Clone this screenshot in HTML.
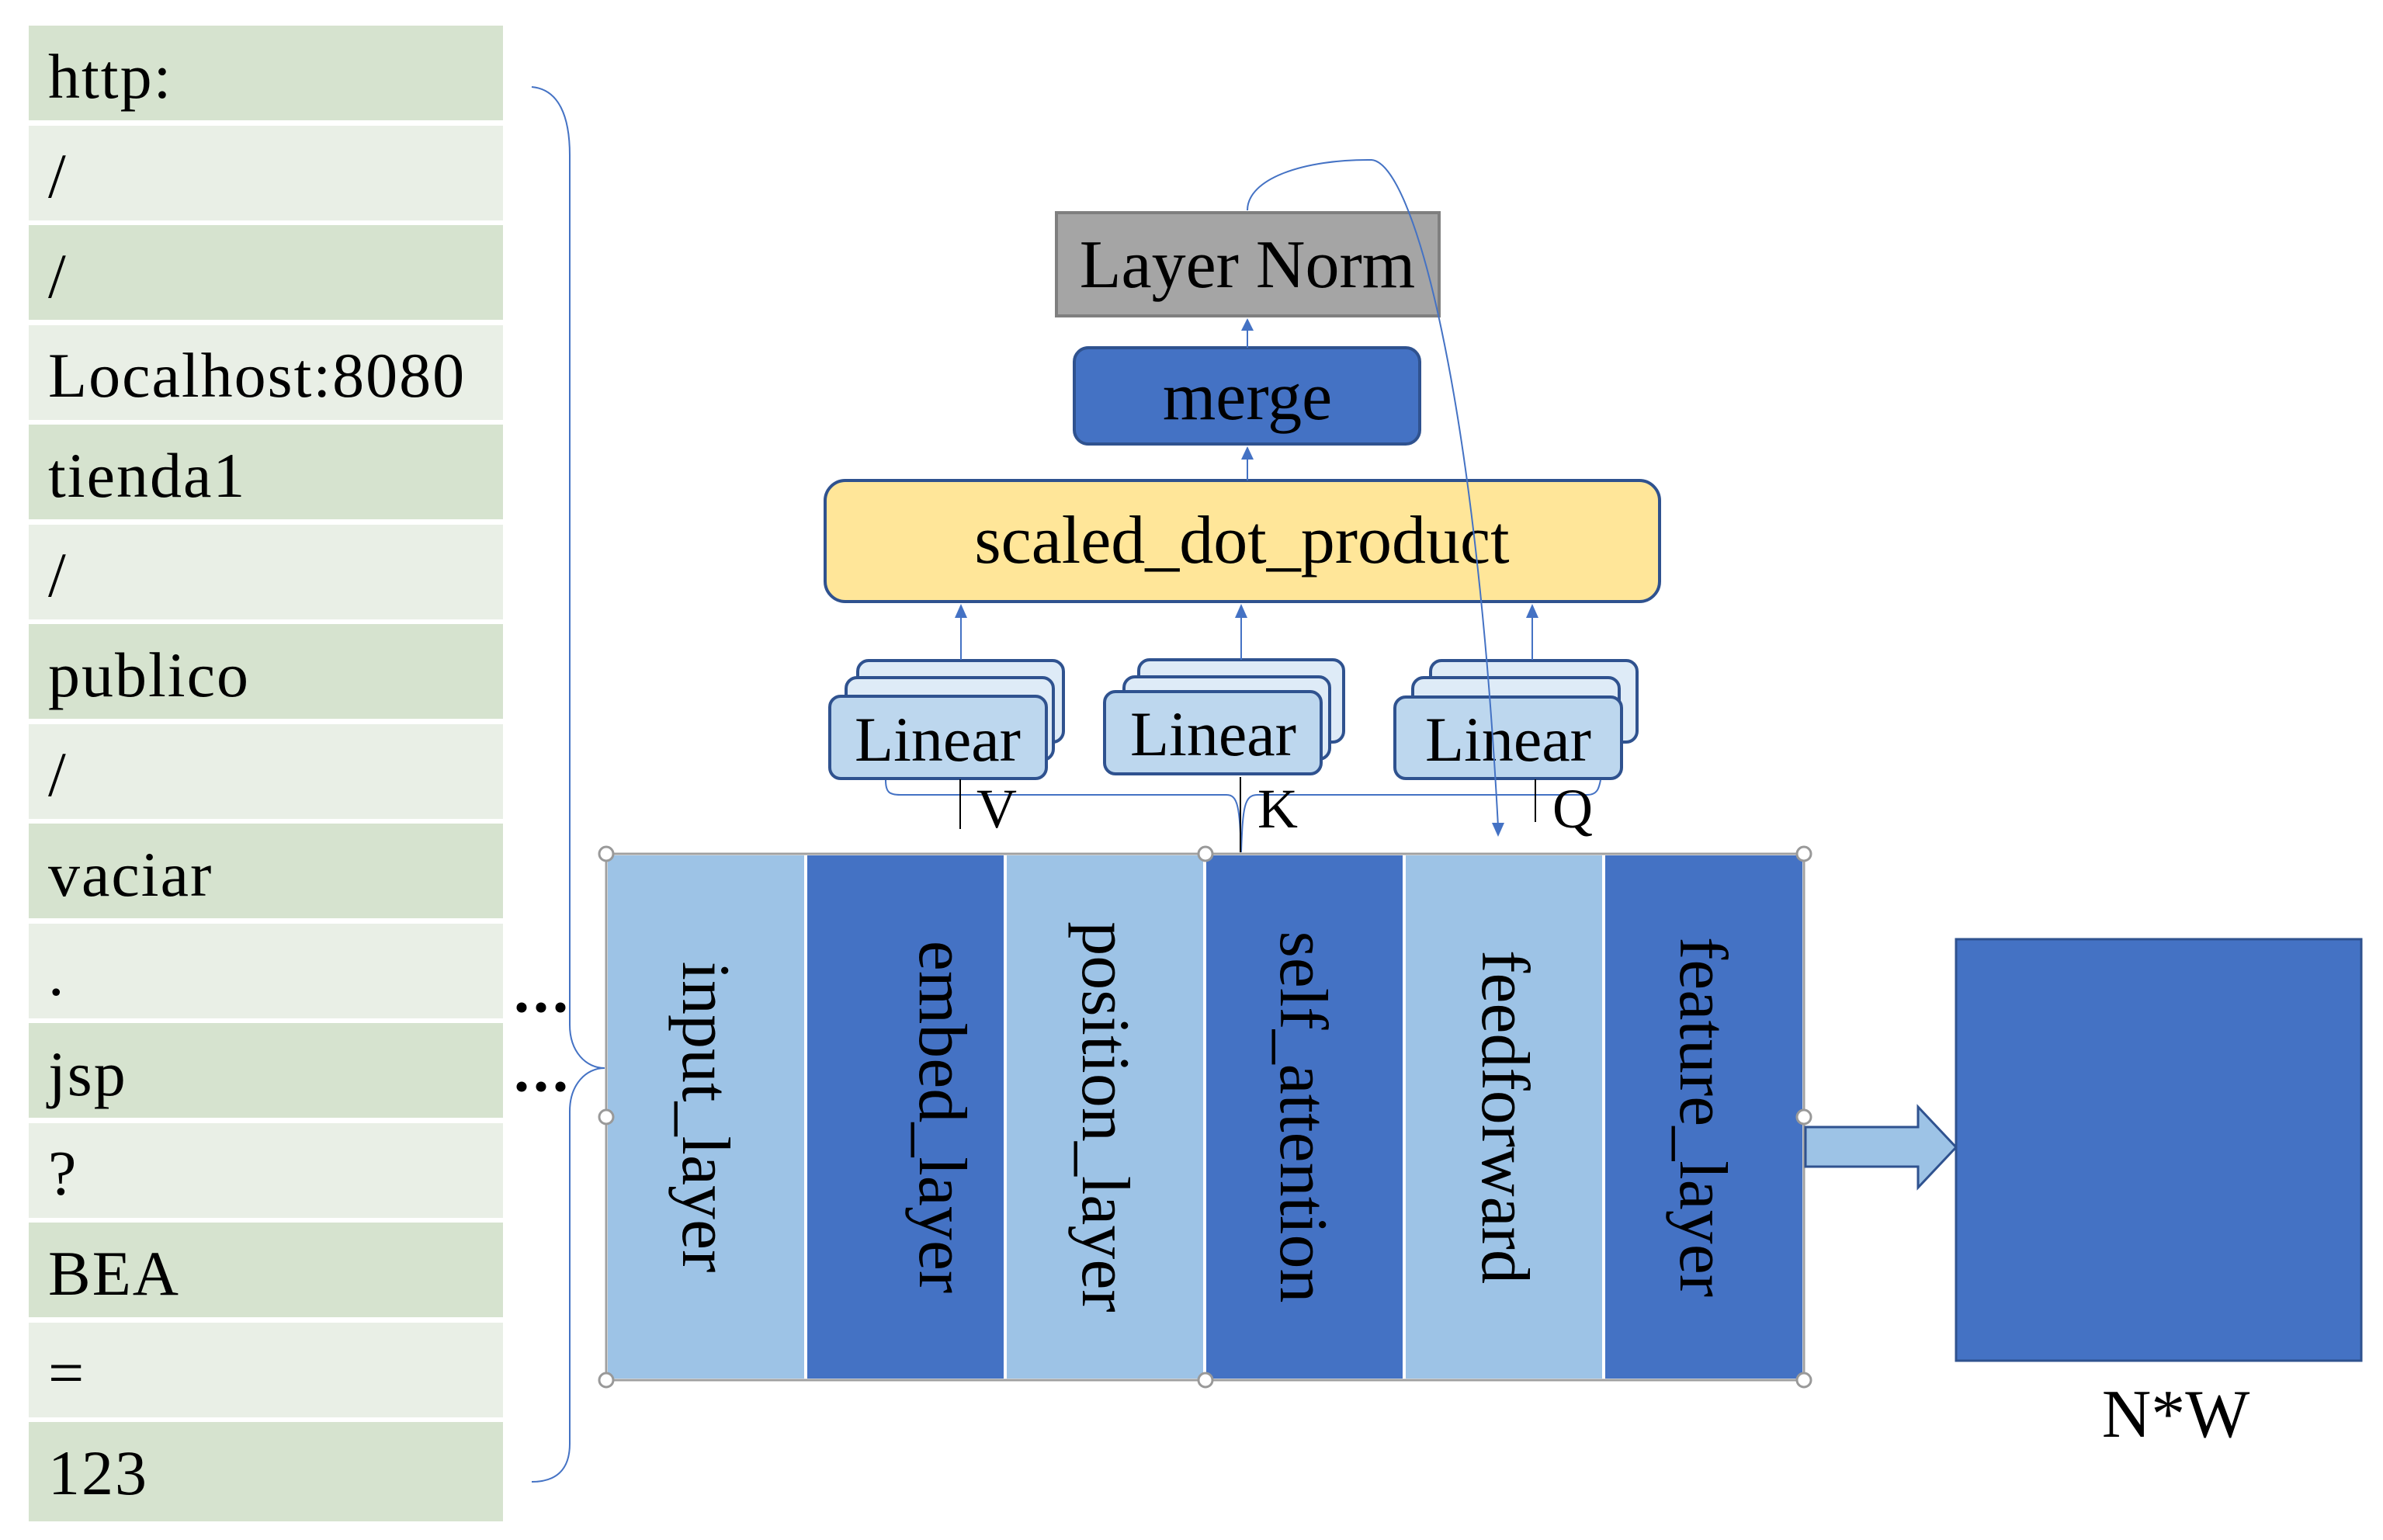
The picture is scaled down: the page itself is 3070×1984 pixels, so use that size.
<!DOCTYPE html>
<html><head><meta charset="utf-8"><style>html,body{margin:0;padding:0;background:#fff}svg{display:block}</style></head>
<body>
<svg width="3070" height="1984" viewBox="0 0 3070 1984" xmlns="http://www.w3.org/2000/svg" font-family="'Liberation Serif', serif">
<!-- left cells -->
<g font-size="82" fill="#000" letter-spacing="2">
<rect x="37" y="33" width="611" height="122" fill="#d6e3cf"/><text x="62" y="126">http:</text>
<rect x="37" y="162" width="611" height="122" fill="#e9efe6"/><text x="62" y="254">/</text>
<rect x="37" y="290" width="611" height="122" fill="#d6e3cf"/><text x="62" y="383">/</text>
<rect x="37" y="419" width="611" height="122" fill="#e9efe6"/><text x="62" y="511">Localhost:8080</text>
<rect x="37" y="547" width="611" height="122" fill="#d6e3cf"/><text x="62" y="640">tienda1</text>
<rect x="37" y="676" width="611" height="122" fill="#e9efe6"/><text x="62" y="768">/</text>
<rect x="37" y="804" width="611" height="122" fill="#d6e3cf"/><text x="62" y="897">publico</text>
<rect x="37" y="933" width="611" height="122" fill="#e9efe6"/><text x="62" y="1025">/</text>
<rect x="37" y="1061" width="611" height="122" fill="#d6e3cf"/><text x="62" y="1154">vaciar</text>
<rect x="37" y="1190" width="611" height="122" fill="#e9efe6"/><text x="62" y="1282">.</text>
<rect x="37" y="1318" width="611" height="122" fill="#d6e3cf"/><text x="62" y="1411">jsp</text>
<rect x="37" y="1447" width="611" height="122" fill="#e9efe6"/><text x="62" y="1539">?</text>
<rect x="37" y="1575" width="611" height="122" fill="#d6e3cf"/><text x="62" y="1668">BEA</text>
<rect x="37" y="1704" width="611" height="122" fill="#e9efe6"/><text x="62" y="1796">=</text>
<rect x="37" y="1832" width="611" height="128" fill="#d6e3cf"/><text x="62" y="1925">123</text>
</g>
<!-- brace -->
<path d="M685 112 C720 115 734 150 734 200 L734 1320 C734 1355 755 1376 779 1376 C755 1376 734 1397 734 1432 L734 1860 C734 1895 715 1909 685 1909" fill="none" stroke="#4472c4" stroke-width="2"/>
<g fill="#000"><circle cx="672" cy="1298" r="6.5"/><circle cx="697" cy="1298" r="6.5"/><circle cx="722" cy="1298" r="6.5"/>
<circle cx="672" cy="1400" r="6.5"/><circle cx="697" cy="1400" r="6.5"/><circle cx="722" cy="1400" r="6.5"/></g>
<!-- main columns -->
<rect x="781" y="1100" width="1543" height="678" fill="#fff" stroke="#a0a0a0" stroke-width="3"/>
<rect x="783" y="1102" width="253" height="674" fill="#9dc3e6"/>
<rect x="1040" y="1102" width="253" height="674" fill="#4472c4"/>
<rect x="1297" y="1102" width="253" height="674" fill="#9dc3e6"/>
<rect x="1554" y="1102" width="253" height="674" fill="#4472c4"/>
<rect x="1811" y="1102" width="253" height="674" fill="#9dc3e6"/>
<rect x="2068" y="1102" width="254" height="674" fill="#4472c4"/>
<g font-size="88" fill="#000" text-anchor="middle">
<text transform="translate(880,1439) rotate(90)">input_layer</text>
<text transform="translate(1185,1439) rotate(90)">embed_layer</text>
<text transform="translate(1395,1439) rotate(90)">position_layer</text>
<text transform="translate(1650,1439) rotate(90)">self_attention</text>
<text transform="translate(1910,1439) rotate(90)">feedforward</text>
<text transform="translate(2165,1439) rotate(90)">feature_layer</text>
</g>
<g fill="#fff" stroke="#999" stroke-width="3">
<circle cx="781" cy="1100" r="9"/><circle cx="1553" cy="1100" r="9"/><circle cx="2324" cy="1100" r="9"/>
<circle cx="781" cy="1439" r="9"/><circle cx="2324" cy="1439" r="9"/>
<circle cx="781" cy="1778" r="9"/><circle cx="1553" cy="1778" r="9"/><circle cx="2324" cy="1778" r="9"/>
</g>
<!-- block arrow -->
<polygon points="2326,1452 2471,1452 2471,1426 2520,1478 2471,1530 2471,1503 2326,1503" fill="#9dc3e6" stroke="#2f528f" stroke-width="3"/>
<rect x="2520" y="1210" width="522" height="543" fill="#4472c4" stroke="#2f528f" stroke-width="3"/>
<text x="2803" y="1851" font-size="88" text-anchor="middle">N*W</text>
<!-- top stack -->
<rect x="1361" y="274" width="493" height="133" fill="#a5a5a5" stroke="#7f7f7f" stroke-width="4"/>
<text x="1607" y="370" font-size="88" text-anchor="middle">Layer Norm</text>
<rect x="1384" y="448" width="445" height="124" rx="18" fill="#4472c4" stroke="#2f528f" stroke-width="4"/>
<text x="1607" y="540" font-size="88" text-anchor="middle">merge</text>
<rect x="1063" y="619" width="1075" height="156" rx="26" fill="#ffe699" stroke="#2f528f" stroke-width="4"/>
<text x="1600" y="725" font-size="88" text-anchor="middle">scaled_dot_product</text>
<!-- linear groups -->
<g stroke="#2f528f" stroke-width="4">
<rect x="1105" y="851" width="265" height="105" rx="14" fill="#deebf7"/>
<rect x="1090" y="873" width="267" height="106" rx="14" fill="#deebf7"/>
<rect x="1069" y="897" width="279" height="106" rx="14" fill="#bdd7ee"/>
<rect x="1467" y="850" width="264" height="106" rx="14" fill="#deebf7"/>
<rect x="1448" y="872" width="265" height="106" rx="14" fill="#deebf7"/>
<rect x="1423" y="891" width="279" height="106" rx="14" fill="#bdd7ee"/>
<rect x="1843" y="851" width="266" height="105" rx="14" fill="#deebf7"/>
<rect x="1820" y="873" width="266" height="106" rx="14" fill="#deebf7"/>
<rect x="1797" y="898" width="292" height="105" rx="14" fill="#bdd7ee"/>
</g>
<g font-size="82" text-anchor="middle">
<text x="1208" y="980">Linear</text>
<text x="1563" y="973">Linear</text>
<text x="1943" y="980">Linear</text>
</g>
<!-- connectors -->
<g stroke="#4472c4" stroke-width="2" fill="none">
<path d="M1238 850 V790"/><path d="M1599 850 V790"/><path d="M1974 850 V790"/>
<path d="M1607 619 V585"/><path d="M1607 448 V420"/>
<path d="M1141 1005 C1141 1020 1145 1024 1160 1024 L1580 1024 C1595 1024 1597 1040 1599 1098 C1601 1040 1603 1024 1620 1024 L2045 1024 C2058 1024 2060 1015 2062 1005"/>
<path d="M1607 271 C1607 230 1680 205 1767 206 C1820 210 1900 500 1930 1065"/>
</g>
<g fill="#4472c4">
<polygon points="1238,778 1230,796 1246,796"/><polygon points="1599,778 1591,796 1607,796"/><polygon points="1974,778 1966,796 1982,796"/>
<polygon points="1607,575 1599,592 1615,592"/><polygon points="1607,410 1599,426 1615,426"/>
<polygon points="1930,1078 1922,1060 1938,1060"/>
</g>
<g stroke="#000" stroke-width="2">
<path d="M1237 1004 V1068"/><path d="M1598 1001 V1098"/><path d="M1978 1004 V1059"/>
</g>
<g font-size="72">
<text x="1258" y="1066">V</text><text x="1620" y="1066">K</text><text x="2000" y="1066">Q</text>
</g>
</svg>
</body></html>
